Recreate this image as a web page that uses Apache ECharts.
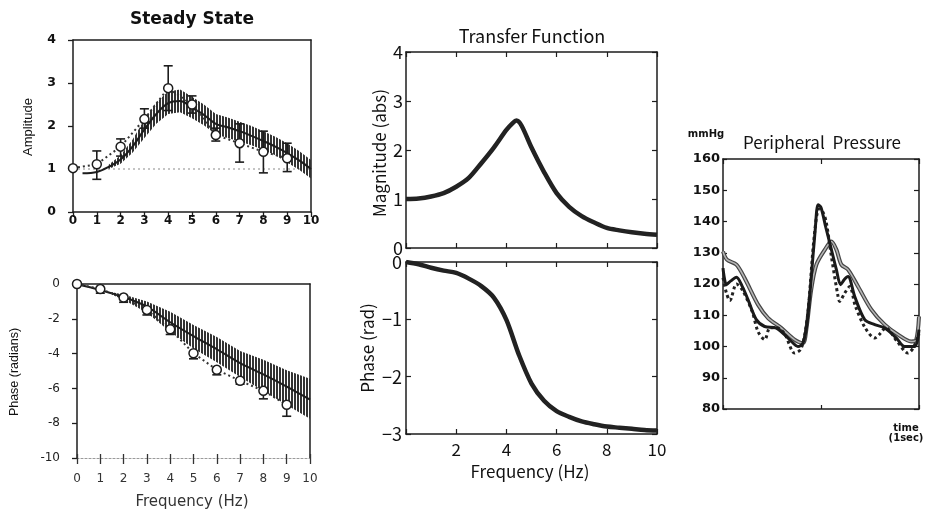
<!DOCTYPE html>
<html><head><meta charset="utf-8">
<script src="https://cdn.jsdelivr.net/npm/echarts@6/dist/echarts.min.js"></script>
<style>html,body{margin:0;padding:0;background:#fff}#c{width:929px;height:509px}</style>
</head><body><div id="c"></div>
<script>
// ---------- Steady State: Amplitude ----------
const ampFreq = [0, 1, 2, 3, 4, 5, 6, 7, 8, 9];
const ampMean = [1.02, 1.11, 1.52, 2.16, 2.88, 2.50, 1.79, 1.60, 1.40, 1.25];
const ampLow  = [null, 0.76, 1.30, 1.95, 2.36, 2.30, 1.65, 1.16, 0.91, 0.94];
const ampHigh = [null, 1.42, 1.70, 2.40, 3.40, 2.70, 1.95, 2.05, 1.88, 1.60];
const ampModelFreq = [0.4, 1, 1.5, 2, 2.5, 3, 3.5, 4, 4.5, 5, 5.5, 6, 6.5, 7, 7.5, 8, 8.5, 9, 9.5, 10];
const ampModel     = [0.90, 0.93, 1.05, 1.22, 1.52, 1.92, 2.28, 2.53, 2.58, 2.42, 2.26, 2.05, 1.97, 1.88, 1.77, 1.65, 1.52, 1.37, 1.20, 1.00];
const ampBandFreq = [1.5, 2, 2.5, 3, 3.5, 4, 4.5, 5, 5.5, 6, 6.5, 7, 7.5, 8, 8.5, 9, 9.5, 10];
const ampBandLow  = [1.00, 1.12, 1.38, 1.72, 2.05, 2.28, 2.32, 2.18, 2.02, 1.80, 1.72, 1.64, 1.55, 1.44, 1.32, 1.15, 0.98, 0.78];
const ampBandHigh = [1.10, 1.32, 1.68, 2.15, 2.55, 2.80, 2.85, 2.68, 2.50, 2.28, 2.20, 2.10, 2.00, 1.88, 1.75, 1.60, 1.42, 1.21];
const ampRefLevel = 1;

// ---------- Steady State: Phase ----------
const phFreq = [0, 1, 2, 3, 4, 5, 6, 7, 8, 9];
const phMean = [0, -0.29, -0.78, -1.49, -2.60, -3.98, -4.93, -5.56, -6.14, -6.94];
const phLow  = [null, -0.53, -1.05, -1.78, -2.90, -4.30, -5.22, -5.76, -6.60, -7.60];
const phModelFreq = [0, 1, 2, 3, 4, 5, 6, 7, 8, 9, 10];
const phModel     = [0, -0.35, -0.75, -1.30, -2.20, -3.00, -3.75, -4.55, -5.20, -5.90, -6.65];
const phBandFreq = [1.5, 2, 3, 4, 5, 6, 7, 8, 9, 10];
const phBandLow  = [-0.62, -0.90, -1.65, -2.75, -3.70, -4.50, -5.35, -6.15, -6.95, -7.75];
const phBandHigh = [-0.48, -0.60, -1.00, -1.60, -2.35, -3.05, -3.85, -4.35, -4.95, -5.45];

// ---------- Transfer Function ----------
const tfFreq = [0, 0.5, 1, 1.5, 2, 2.5, 3, 3.5, 4, 4.25, 4.4, 4.6, 5, 5.5, 6, 6.5, 7, 7.5, 8, 8.5, 9, 9.5, 10];
const tfMag  = [1.00, 1.01, 1.05, 1.12, 1.25, 1.43, 1.73, 2.05, 2.41, 2.55, 2.60, 2.50, 2.05, 1.55, 1.12, 0.84, 0.65, 0.52, 0.41, 0.36, 0.32, 0.29, 0.27];
const tfPhFreq = [0, 0.5, 1, 1.5, 2, 2.5, 3, 3.5, 4, 4.5, 5, 5.5, 6, 6.5, 7, 7.5, 8, 8.5, 9, 9.5, 10];
const tfPhase  = [0, -0.04, -0.10, -0.15, -0.19, -0.29, -0.42, -0.62, -1.01, -1.62, -2.12, -2.42, -2.60, -2.70, -2.78, -2.83, -2.87, -2.89, -2.91, -2.93, -2.94];

// ---------- Peripheral Pressure ----------
const prTimeSolid = [0, 0.035, 0.08, 0.137, 0.2, 0.255, 0.34, 0.425, 0.545, 0.68, 0.765, 0.816, 0.86, 0.90, 0.94, 0.97, 1.0, 1.05, 1.09, 1.157, 1.20, 1.24, 1.276, 1.344, 1.446, 1.548, 1.65, 1.77, 1.854, 1.956, 2.0];
const prSolid     = [125.1, 119.8, 121.0, 122.2, 119.0, 115.0, 108.6, 106.4, 105.9, 102.2, 100.0, 101.1, 108.0, 122.0, 137.0, 145.4, 144.5, 138.0, 133.1, 124.6, 119.8, 121.5, 122.4, 116.0, 108.6, 107.0, 105.9, 102.7, 100.0, 100.0, 105.4];
const prTimeDot = [0, 0.035, 0.07, 0.137, 0.2, 0.3, 0.357, 0.426, 0.48, 0.55, 0.63, 0.73, 0.79, 0.83, 0.87, 0.93, 0.98, 1.02, 1.055, 1.106, 1.174, 1.19, 1.24, 1.293, 1.35, 1.45, 1.548, 1.6, 1.66, 1.78, 1.888, 1.94, 2.0];
const prDot     = [122.0, 117.1, 114.7, 120.0, 118.0, 111.0, 104.8, 102.2, 106.0, 106.0, 104.0, 97.9, 99.0, 103.0, 112.0, 135.0, 144.0, 143.0, 139.5, 128.8, 116.0, 114.4, 117.0, 119.2, 113.0, 106.0, 102.7, 104.0, 106.0, 101.5, 97.9, 99.5, 104.0];
const prTimeGray = [0, 0.04, 0.137, 0.22, 0.357, 0.46, 0.596, 0.73, 0.816, 0.85, 0.90, 0.953, 1.04, 1.106, 1.157, 1.208, 1.276, 1.378, 1.514, 1.65, 1.786, 1.92, 1.97, 2.0];
const prGray     = [130.4, 127.8, 126.2, 121.9, 113.4, 109.1, 105.9, 102.2, 101.1, 105.4, 118.2, 126.2, 131.0, 133.6, 131.0, 126.2, 124.6, 119.2, 111.8, 107.0, 103.8, 101.6, 102.0, 109.6];

const INK = '#1d1d1d';
const SANS = 'DejaVu Sans';
const JP = '"Noto Sans CJK JP", "Noto Sans", sans-serif';

const zip = (a, b) => a.map((v, i) => [v, b[i]]);
const zip3 = (a, b, c) => a.map((v, i) => [v, b[i], c[i]]).filter(d => d[1] !== null && d[2] !== null);

function hatch() {
  const c = document.createElement('canvas');
  c.width = 3; c.height = 3;
  const g = c.getContext('2d');
  g.fillStyle = '#333';
  g.fillRect(0, 0, 2, 3);
  return { image: c, repeat: 'repeat' };
}
const HATCH = hatch();

function bandRender(freq, lo, hi) {
  return function (params, api) {
    if (params.dataIndex !== 0) return;
    const pts = [];
    for (let i = 0; i < freq.length; i++) pts.push(api.coord([freq[i], hi[i]]));
    for (let i = freq.length - 1; i >= 0; i--) pts.push(api.coord([freq[i], lo[i]]));
    return { type: 'polygon', shape: { points: pts }, style: { fill: HATCH, stroke: null } };
  };
}
function errRender(params, api) {
  const x = api.value(0), lo = api.value(1), hi = api.value(2);
  const a = api.coord([x, lo]), b = api.coord([x, hi]);
  const w = 4.5;
  const st = { stroke: INK, lineWidth: 1.6 };
  return { type: 'group', children: [
    { type: 'line', shape: { x1: a[0], y1: a[1], x2: b[0], y2: b[1] }, style: st },
    { type: 'line', shape: { x1: a[0] - w, y1: a[1], x2: a[0] + w, y2: a[1] }, style: st },
    { type: 'line', shape: { x1: b[0] - w, y1: b[1], x2: b[0] + w, y2: b[1] }, style: st }
  ]};
}

const lineSolid = (c, w) => ({ show: true, onZero: false, lineStyle: { color: c, width: w } });
const noLabel = { show: false };
const noTick = { show: false };
const noSplit = { show: false };

function mirror(gi, pos, min, max, interval, tickInside) {
  return {
    type: 'value', gridIndex: gi, position: pos, min, max, interval,
    axisLine: lineSolid(INK, 1.5),
    axisTick: tickInside ? { show: true, inside: true, length: 5, lineStyle: { color: INK, width: 1.2 } } : noTick,
    axisLabel: noLabel, splitLine: noSplit
  };
}

const grids = [
  { left: 73, top: 40, width: 238, height: 172 },
  { left: 77, top: 284, width: 233, height: 174 },
  { left: 406, top: 52, width: 251, height: 196 },
  { left: 406, top: 262, width: 251, height: 172 },
  { left: 723, top: 159, width: 196, height: 250 }
].map(g => Object.assign({ show: false, outerBoundsMode: 'none', containLabel: false }, g));

const xAxis = [
  { type: 'value', gridIndex: 0, position: 'bottom', min: 0, max: 10, interval: 1,
    axisLine: lineSolid(INK, 1.5),
    axisTick: { show: true, length: 5, lineStyle: { color: INK, width: 1.3 } },
    axisLabel: { color: '#111', fontFamily: SANS, fontSize: 12, fontWeight: 'bold', margin: 3 },
    splitLine: noSplit },
  mirror(0, 'top', 0, 10, 1, false),
  { type: 'value', gridIndex: 1, position: 'bottom', min: 0, max: 10, interval: 1,
    axisLine: { show: true, onZero: false, lineStyle: { color: '#9a9a9a', width: 1.2, type: [2, 2] } },
    axisTick: { show: true, length: 6, lineStyle: { color: '#333', width: 1.3 } },
    axisLabel: { color: '#333', fontFamily: SANS, fontSize: 12, margin: 15 },
    splitLine: noSplit },
  mirror(1, 'top', 0, 10, 1, false),
  { type: 'value', gridIndex: 2, position: 'bottom', min: 0, max: 10, interval: 2,
    axisLine: lineSolid(INK, 1.5),
    axisTick: { show: true, inside: true, length: 5, lineStyle: { color: INK, width: 1.2 } },
    axisLabel: noLabel, splitLine: noSplit },
  mirror(2, 'top', 0, 10, 2, true),
  { type: 'value', gridIndex: 3, position: 'bottom', min: 0, max: 10, interval: 2,
    axisLine: lineSolid(INK, 1.5),
    axisTick: { show: true, inside: true, length: 5, lineStyle: { color: INK, width: 1.2 } },
    axisLabel: { color: '#111', fontFamily: JP, fontSize: 17, margin: 7, formatter: v => v === 0 ? '' : String(v) },
    splitLine: noSplit },
  mirror(3, 'top', 0, 10, 2, true),
  { type: 'value', gridIndex: 4, position: 'bottom', min: 0, max: 2, interval: 1,
    axisLine: lineSolid(INK, 1.5),
    axisTick: { show: true, inside: true, length: 4, lineStyle: { color: INK, width: 1.2 } },
    axisLabel: noLabel, splitLine: noSplit },
  mirror(4, 'top', 0, 2, 1, true),
  // upward half of the crossing ticks on the dotted phase baseline
  { type: 'value', gridIndex: 1, position: 'bottom', offset: 0, min: 0, max: 10, interval: 1,
    axisLine: { show: false, onZero: false },
    axisTick: { show: true, inside: true, length: 4, lineStyle: { color: '#333', width: 1.3 } },
    axisLabel: noLabel, splitLine: noSplit }
];

const yAxis = [
  { type: 'value', gridIndex: 0, position: 'left', min: 0, max: 4, interval: 1,
    axisLine: lineSolid(INK, 1.5),
    axisTick: { show: true, length: 5, lineStyle: { color: INK, width: 1.3 } },
    axisLabel: { color: '#111', fontFamily: SANS, fontSize: 12.5, fontWeight: 'bold', margin: 17 },
    splitLine: noSplit },
  mirror(0, 'right', 0, 4, 1, false),
  { type: 'value', gridIndex: 1, position: 'left', min: -10, max: 0, interval: 2,
    axisLine: lineSolid(INK, 1.5),
    axisTick: { show: true, length: 5, lineStyle: { color: INK, width: 1.3 } },
    axisLabel: { color: '#222', fontFamily: SANS, fontSize: 12, margin: 17 },
    splitLine: noSplit },
  mirror(1, 'right', -10, 0, 2, false),
  { type: 'value', gridIndex: 2, position: 'left', min: 0, max: 4, interval: 1,
    axisLine: lineSolid(INK, 1.5),
    axisTick: { show: true, inside: true, length: 5, lineStyle: { color: INK, width: 1.2 } },
    axisLabel: { color: '#111', fontFamily: JP, fontSize: 18, margin: 3 },
    splitLine: noSplit },
  mirror(2, 'right', 0, 4, 1, true),
  { type: 'value', gridIndex: 3, position: 'left', min: -3, max: 0, interval: 1,
    axisLine: lineSolid(INK, 1.5),
    axisTick: { show: true, inside: true, length: 5, lineStyle: { color: INK, width: 1.2 } },
    axisLabel: { color: '#111', fontFamily: JP, fontSize: 18, margin: 4, formatter: v => String(v).replace('-', '\u2212') },
    splitLine: noSplit },
  mirror(3, 'right', -3, 0, 1, true),
  { type: 'value', gridIndex: 4, position: 'left', min: 80, max: 160, interval: 10,
    axisLine: lineSolid(INK, 1.5),
    axisTick: { show: true, inside: true, length: 4, lineStyle: { color: INK, width: 1.2 } },
    axisLabel: { color: '#111', fontFamily: SANS, fontSize: 13, fontWeight: 'bold', margin: 3 },
    splitLine: noSplit },
  mirror(4, 'right', 80, 160, 10, true)
];
const AX = { amp: [0, 0], ph: [2, 2], mag: [4, 4], tph: [6, 6], pr: [8, 8] };
const on = k => ({ xAxisIndex: AX[k][0], yAxisIndex: AX[k][1] });

const series = [
  // Amplitude
  Object.assign({ type: 'line', data: [[0, ampRefLevel], [10, ampRefLevel]], symbol: 'none', silent: true,
    lineStyle: { color: '#8a8a8a', width: 1.2, type: [2, 3] }, z: 1 }, on('amp')),
  Object.assign({ type: 'custom', data: zip3(ampBandFreq, ampBandLow, ampBandHigh), encode: { x: 0, y: [1, 2] },
    renderItem: bandRender(ampBandFreq, ampBandLow, ampBandHigh), z: 2, silent: true }, on('amp')),
  Object.assign({ type: 'line', data: zip(ampModelFreq, ampModel), symbol: 'none', smooth: 0.35,
    lineStyle: { color: INK, width: 2 }, z: 3 }, on('amp')),
  Object.assign({ type: 'line', data: zip(ampFreq, ampMean), symbol: 'none',
    lineStyle: { color: '#333', width: 2, type: [2, 3] }, z: 3 }, on('amp')),
  Object.assign({ type: 'custom', data: zip3(ampFreq, ampLow, ampHigh), encode: { x: 0, y: [1, 2] },
    renderItem: errRender, z: 4 }, on('amp')),
  Object.assign({ type: 'scatter', data: zip(ampFreq, ampMean), symbol: 'circle', symbolSize: 9,
    itemStyle: { color: '#fff', borderColor: INK, borderWidth: 1.5, opacity: 1 }, z: 5 }, on('amp')),
  // Phase (steady state)
  Object.assign({ type: 'custom', data: zip3(phBandFreq, phBandLow, phBandHigh), encode: { x: 0, y: [1, 2] },
    renderItem: bandRender(phBandFreq, phBandLow, phBandHigh), z: 2, silent: true }, on('ph')),
  Object.assign({ type: 'line', data: zip(phModelFreq, phModel), symbol: 'none', smooth: 0.3,
    lineStyle: { color: INK, width: 2 }, z: 3 }, on('ph')),
  Object.assign({ type: 'line', data: zip(phFreq, phMean), symbol: 'none',
    lineStyle: { color: '#333', width: 2, type: [2, 3] }, z: 3 }, on('ph')),
  Object.assign({ type: 'custom', data: zip3(phFreq, phLow, phMean), encode: { x: 0, y: [1, 2] },
    renderItem: errRender, z: 4 }, on('ph')),
  Object.assign({ type: 'scatter', data: zip(phFreq, phMean), symbol: 'circle', symbolSize: 9,
    itemStyle: { color: '#fff', borderColor: INK, borderWidth: 1.5, opacity: 1 }, z: 5 }, on('ph')),
  // Transfer function
  Object.assign({ type: 'line', data: zip(tfFreq, tfMag), symbol: 'none', smooth: 0.3,
    lineStyle: { color: '#222', width: 4.5 } }, on('mag')),
  Object.assign({ type: 'line', data: zip(tfPhFreq, tfPhase), symbol: 'none', smooth: 0.3,
    lineStyle: { color: '#222', width: 4.5 } }, on('tph')),
  // Pressure
  Object.assign({ type: 'line', data: zip(prTimeGray, prGray), symbol: 'none', smooth: 0.3,
    lineStyle: { color: '#444', width: 4 }, z: 2 }, on('pr')),
  Object.assign({ type: 'line', data: zip(prTimeGray, prGray), symbol: 'none', smooth: 0.3,
    lineStyle: { color: '#b5b5b5', width: 1.6 }, z: 3 }, on('pr')),
  Object.assign({ type: 'line', data: zip(prTimeDot, prDot), symbol: 'none', smooth: 0.3,
    lineStyle: { color: '#222', width: 3, type: [3, 3] }, z: 4 }, on('pr')),
  Object.assign({ type: 'line', data: zip(prTimeSolid, prSolid), symbol: 'none', smooth: 0.3,
    lineStyle: { color: '#1a1a1a', width: 3 }, z: 5 }, on('pr'))
];

const T = (text, x, y, font, size, weight, rot, color) => ({
  type: 'text', x, y, rotation: rot || 0, silent: true,
  style: { text, fontFamily: font, fontSize: size, fontWeight: weight || 'normal',
    fill: color || '#111', align: 'center', verticalAlign: 'middle' }
});
const graphic = [
  T('Steady State', 192, 20, SANS, 17, 'bold'),
  T('Amplitude', 28, 127, 'Liberation Sans Narrow, Liberation Sans', 13, 'normal', Math.PI / 2),
  T('Phase (radians)', 15, 372, 'Liberation Sans', 12.5, 'normal', Math.PI / 2),
  T('Frequency (Hz)', 192, 502, SANS, 15, 'normal', 0, '#333'),
  T('Transfer Function', 532, 36, JP, 18),
  T('Magnitude (abs)', 380, 153, JP, 17, 'normal', Math.PI / 2),
  T('Phase (rad)', 368, 348, JP, 17, 'normal', Math.PI / 2),
  T('Frequency (Hz)', 530, 472, JP, 17),
  T('mmHg', 706, 134, SANS, 10, 'bold'),
  T('Peripheral  Pressure', 822, 143, JP, 17),
  T('time', 906, 428, SANS, 10, 'bold'),
  T('(1sec)', 906, 438, SANS, 10, 'bold')
];

const chart = echarts.init(document.getElementById('c'), null, { renderer: 'canvas' });
chart.setOption({
  animation: false,
  backgroundColor: '#fff',
  grid: grids, xAxis, yAxis, series, graphic
});
</script></body></html>
